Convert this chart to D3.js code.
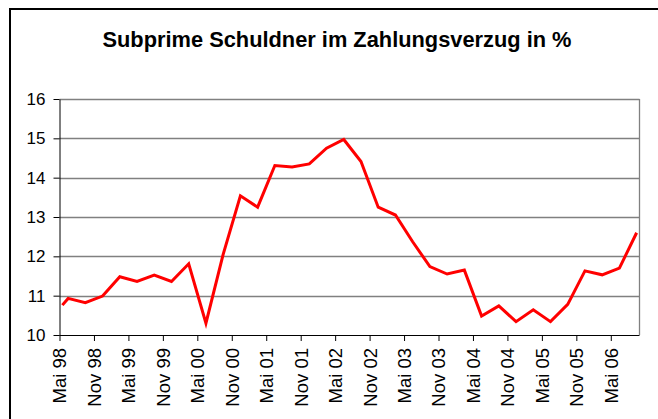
<!DOCTYPE html>
<html>
<head>
<meta charset="utf-8">
<script src="https://cdn.jsdelivr.net/npm/d3@7"></script>
<style>
  body { margin: 0; background: #fff; }
  svg { display: block; font-family: "Liberation Sans", Arial, sans-serif; }
</style>
</head>
<body>
<svg id="chart" width="658" height="419"></svg>
<script>
// quarterly readings (month of observation)
var dates = ["1998-05","1998-06","1998-09","1998-12","1999-03","1999-06","1999-09","1999-12",
             "2000-03","2000-06","2000-09","2000-12","2001-03","2001-06","2001-09","2001-12",
             "2002-03","2002-06","2002-09","2002-12","2003-03","2003-06","2003-09","2003-12",
             "2004-03","2004-06","2004-09","2004-12","2005-03","2005-06","2005-09","2005-12",
             "2006-03","2006-06","2006-09"];
var values = [10.76, 10.93, 10.82, 10.99, 11.48, 11.36, 11.52, 11.36,
              11.81, 10.30, 12.05, 13.54, 13.25, 14.31, 14.27, 14.35,
              14.75, 14.97, 14.41, 13.25, 13.05, 12.37, 11.74, 11.55,
              11.65, 10.48, 10.74, 10.34, 10.64, 10.34, 10.78, 11.63,
              11.53, 11.70, 12.60];
var tickLabels = ["Mai 98","Nov 98","Mai 99","Nov 99","Mai 00","Nov 00","Mai 01","Nov 01",
                  "Mai 02","Nov 02","Mai 03","Nov 03","Mai 04","Nov 04","Mai 05","Nov 05","Mai 06"];
var yTicks = [10, 11, 12, 13, 14, 15, 16];
var title = "Subprime Schuldner im Zahlungsverzug in %";

(function () {
  var svg = d3.select("#chart");

  // month index since Mai 98
  var monthIdx = function (s) {
    var p = s.split("-");
    return (+p[0] - 1998) * 12 + (+p[1] - 5);
  };
  var data = dates.map(function (d, i) { return { m: monthIdx(d), v: values[i] }; });

  var plotLeft = 59.5, plotRight = 639.5, plotTop = 99, plotBottom = 335;

  var x = d3.scaleLinear().domain([0, 101]).range([plotLeft, plotRight]);
  var y = d3.scaleLinear().domain([10, 16]).range([plotBottom, plotTop]);

  // outer frame
  svg.append("path")
    .attr("d", "M10,430 L10,9 L670,9")
    .attr("fill", "none")
    .attr("stroke", "#000")
    .attr("stroke-width", 2);

  svg.append("text")
    .attr("x", 337)
    .attr("y", 47)
    .attr("text-anchor", "middle")
    .attr("font-size", 21.5)
    .attr("font-weight", "bold")
    .attr("textLength", 469)
    .attr("lengthAdjust", "spacingAndGlyphs")
    .text(title);

  // gridlines
  svg.append("g")
    .selectAll("line")
    .data(yTicks.slice(1))
    .enter().append("line")
    .attr("x1", plotLeft).attr("x2", plotRight)
    .attr("y1", function (d) { return Math.round(y(d)) + 0.5; })
    .attr("y2", function (d) { return Math.round(y(d)) + 0.5; })
    .attr("stroke", "#808080")
    .attr("stroke-width", 1.3);

  // right border of plot
  svg.append("line")
    .attr("x1", plotRight).attr("x2", plotRight)
    .attr("y1", plotTop).attr("y2", plotBottom)
    .attr("stroke", "#808080")
    .attr("stroke-width", 1.3);

  // y axis
  var yAxis = d3.axisLeft(y)
    .tickValues(yTicks)
    .tickFormat(d3.format("d"))
    .tickSize(6)
    .tickSizeOuter(0)
    .tickPadding(8);
  var gy = svg.append("g")
    .attr("transform", "translate(" + plotLeft + ",0)")
    .call(yAxis);
  gy.selectAll("text").attr("font-size", 17).attr("fill", "#000").attr("font-family", "Liberation Sans, Arial, sans-serif");
  gy.selectAll("line, path").attr("stroke", "#000");

  // x axis
  var xAxis = d3.axisBottom(x)
    .tickValues(d3.range(tickLabels.length).map(function (i) { return i * 6; }))
    .tickFormat(function (d, i) { return tickLabels[i]; })
    .tickSize(6)
    .tickSizeOuter(0);
  var gx = svg.append("g")
    .attr("transform", "translate(0," + plotBottom + ")")
    .call(xAxis);
  gx.select("path.domain").attr("d", "M" + plotLeft + ",0.5H" + plotRight).attr("stroke", "#000");
  gx.selectAll("line").attr("stroke", "#000");
  gx.selectAll("text")
    .attr("font-size", 18.5)
    .attr("fill", "#000")
    .attr("font-family", "Liberation Sans, Arial, sans-serif")
    .attr("text-anchor", "end")
    .attr("transform", "rotate(-90)")
    .attr("x", -13)
    .attr("y", 0)
    .attr("dy", "0.35em");

  // series line
  var line = d3.line()
    .x(function (d) { return x(d.m + 0.5); })
    .y(function (d) { return y(d.v); });

  svg.append("path")
    .datum(data)
    .attr("d", line)
    .attr("fill", "none")
    .attr("stroke", "#ff0000")
    .attr("stroke-width", 3)
    .attr("stroke-linejoin", "miter");
})();
</script>
</body>
</html>
